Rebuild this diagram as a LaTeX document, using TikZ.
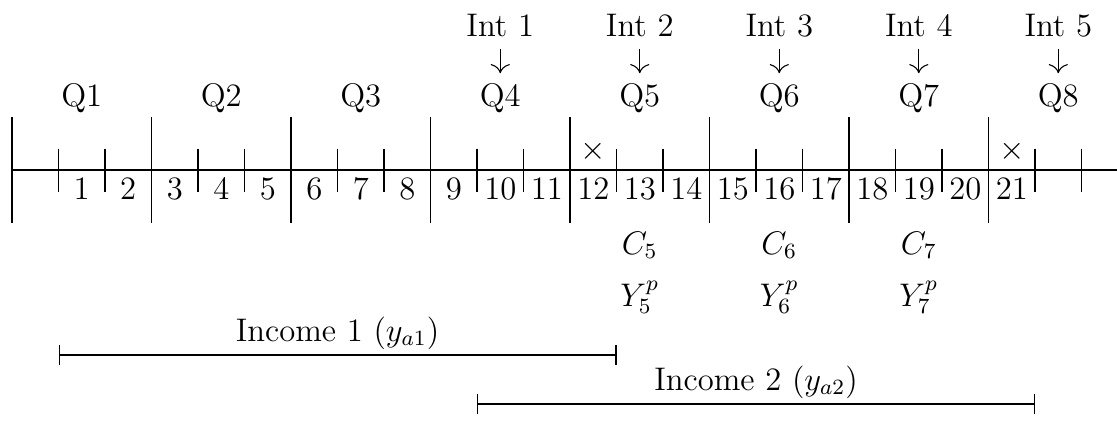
\documentclass[tikz,border=0pt]{standalone}
\usetikzlibrary{arrows.meta}
\begin{document}
\begin{tikzpicture}[x=0.0129032cm,y=-0.0129032cm,
  lbl/.style={font=\fontsize{12}{14.5}\selectfont, inner sep=0pt, anchor=base},
  intarrow/.style={-{To[scale=1.35]}, shorten <=4.4pt, shorten >=3.4pt},
  span/.style={{Bar[width=7.5pt]}-{Bar[width=7.5pt]}},
  bigtick/.style={},
  smalltick/.style={}
]
\useasboundingbox (0,0) rectangle (1117,432);
% main axis
\coordinate (axL) at (12,170);
\coordinate (axR) at (1117,170);
\draw (axL) -- (axR);
% tall ticks
\foreach \m in {0,3,...,21}
  \draw[bigtick] ({12+46.5*\m},117) -- ({12+46.5*\m},223);
% small ticks
\foreach \m in {1,2,4,5,7,8,10,11,13,14,16,17,19,20,22,23}
  \draw[smalltick] ({12+46.5*\m},148.5) -- ({12+46.5*\m},191.5);
% month numbers
\foreach \k in {1,...,21}
  \node[lbl] (n\k) at ({12+46.5*(\k+0.5)},199) {\k};
% crosses
\node[lbl, anchor=center] (x12) at ({12+46.5*12.5},151) {$\times$};
\node[lbl, anchor=center] (x21) at ({12+46.5*21.5},151) {$\times$};
% quarters
\node[lbl] (q1) at ({12+46.5*1.5},106) {Q1};
\node[lbl] (q2) at ({12+46.5*4.5},106) {Q2};
\node[lbl] (q3) at ({12+46.5*7.5},106) {Q3};
\node[lbl] (q4) at ({12+46.5*10.5},106) {Q4};
\node[lbl] (q5) at ({12+46.5*13.5},106) {Q5};
\node[lbl] (q6) at ({12+46.5*16.5},106) {Q6};
\node[lbl] (q7) at ({12+46.5*19.5},106) {Q7};
\node[lbl] (q8) at ({12+46.5*22.5},106) {Q8};
% interviews
\node[lbl] (i1) at ({12+46.5*10.5},36) {Int 1};
\node[lbl] (i2) at ({12+46.5*13.5},36) {Int 2};
\node[lbl] (i3) at ({12+46.5*16.5},36) {Int 3};
\node[lbl] (i4) at ({12+46.5*19.5},36) {Int 4};
\node[lbl] (i5) at ({12+46.5*22.5},36) {Int 5};
\draw[intarrow] (i1.south) -- (q4.north);
\draw[intarrow] (i2.south) -- (q5.north);
\draw[intarrow] (i3.south) -- (q6.north);
\draw[intarrow] (i4.south) -- (q7.north);
\draw[intarrow] (i5.south) -- (q8.north);
% C and Y
\node[lbl] (c5) at ({12+46.5*13.5},254) {$C_5$};
\node[lbl] (c6) at ({12+46.5*16.5},254) {$C_6$};
\node[lbl] (c7) at ({12+46.5*19.5},254) {$C_7$};
\node[lbl] (y5) at ({12+46.5*13.5},306) {$Y_5^p$};
\node[lbl] (y6) at ({12+46.5*16.5},306) {$Y_6^p$};
\node[lbl] (y7) at ({12+46.5*19.5},306) {$Y_7^p$};
% incomes
\node[lbl] (inc1) at (337.5,341) {Income 1 ($y_{a1}$)};
\coordinate (a1) at ({12+46.5*1},355);
\coordinate (b1) at ({12+46.5*13},355);
\draw[span] (a1) -- (b1);
\node[lbl] (inc2) at (756,390) {Income 2 ($y_{a2}$)};
\coordinate (a2) at ({12+46.5*10},404);
\coordinate (b2) at ({12+46.5*22},404);
\draw[span] (a2) -- (b2);
\end{tikzpicture}
\end{document}
